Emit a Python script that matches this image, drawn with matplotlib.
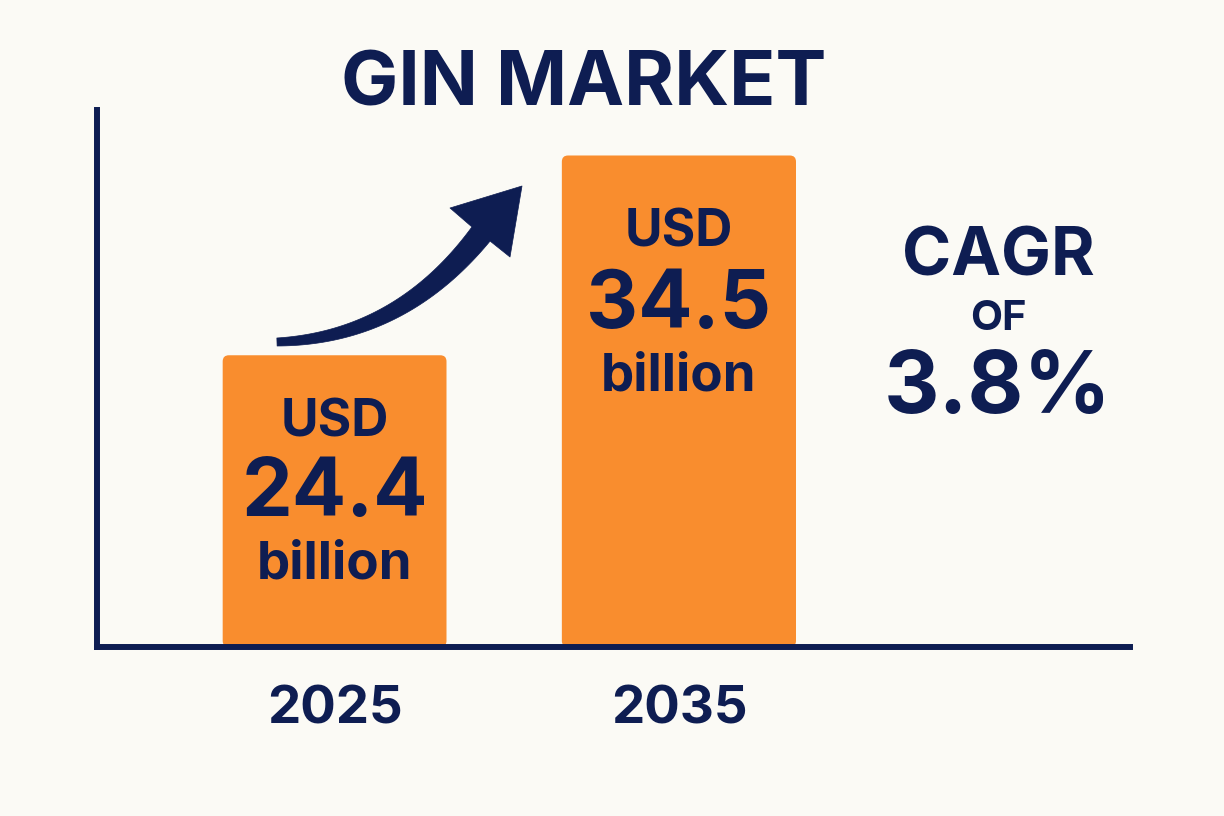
import matplotlib
matplotlib.use("Agg")
import numpy as np
import matplotlib.pyplot as plt
from matplotlib.patches import FancyBboxPatch, Polygon

years = ["2025", "2035"]
values = [24.4, 34.5]
value_labels = ["24.4", "34.5"]
title = "GIN MARKET"
cagr_lines = ["CAGR", "OF", "3.8%"]

NAVY = "#0E1D52"
ORANGE = "#F98D2E"
BG = "#FBFAF5"
FONT = ["Inter", "DejaVu Sans"]
W, H = 1224, 816

fig = plt.figure(figsize=(W / 100, H / 100), dpi=100, facecolor=BG)
ax = fig.add_axes([97 / W, 1 - 647 / H, (1130 - 97) / W, (647 - 110) / H])
ax.set_facecolor(BG)

pos = list(range(len(years)))
bars = ax.bar(pos, values, width=[0.65, 0.68], color=ORANGE)
ax.set_xlim(-0.69, 2.31)
ax.set_ylim(9.65, 36.8)

# swap plain bars for slightly rounded ones
for b in bars:
    x0, w = b.get_x(), b.get_width()
    y0 = ax.get_ylim()[0]
    h = b.get_height() - y0
    b.set_visible(False)
    ax.add_patch(FancyBboxPatch((x0, y0), w, h,
                                boxstyle="round,pad=0,rounding_size=0.018",
                                mutation_aspect=17.4, fc=ORANGE, ec="none"))

for s in ["top", "right"]:
    ax.spines[s].set_visible(False)
for s in ["left", "bottom"]:
    ax.spines[s].set_color(NAVY)
    ax.spines[s].set_linewidth(4.3)
    ax.spines[s].set_capstyle("projecting")
ax.set_xticks([])
ax.set_yticks([])

# labels inside bars (pixel offsets below the bar top)
usd_off = [-68, -78]
num_off = [-140, -152]
bil_off = [-210, -222]
for i, (v, lab) in enumerate(zip(values, value_labels)):
    ax.annotate("USD", (i, v), xytext=(0, usd_off[i]), textcoords="offset pixels",
                ha="center", va="center", fontsize=37, fontweight="bold", color=NAVY, family=FONT)
    ax.annotate(lab, (i, v), xytext=(0, num_off[i]), textcoords="offset pixels",
                ha="center", va="center", fontsize=58, fontweight="bold", color=NAVY, family=FONT)
    ax.annotate("billion", (i, v), xytext=(0, bil_off[i]), textcoords="offset pixels",
                ha="center", va="center", fontsize=38, fontweight="bold", color=NAVY, family=FONT)
    ax.annotate(years[i], (i, ax.get_ylim()[0]), xytext=(0, -63), textcoords="offset pixels",
                ha="center", va="center", fontsize=38, fontweight="bold", color=NAVY, family=FONT,
                annotation_clip=False)

fig.text(584 / W, 1 - 86 / H, title, ha="center", va="center", fontsize=55,
         fontweight="bold", color=NAVY, family=FONT)

cagr_y = [258, 319, 390]
cagr_sizes = [48, 30, 62]
for txt, y, fs in zip(cagr_lines, cagr_y, cagr_sizes):
    fig.text(998 / W, 1 - y / H, txt, ha="center", va="center", fontsize=fs,
             fontweight="bold", color=NAVY, family=FONT)

# tapered curved arrow, built in pixel space
p0, p1, p2 = np.array([277, 342]), np.array([400, 338]), np.array([481, 234])
t = np.linspace(0, 1, 60)[:, None]
curve = (1 - t) ** 2 * p0 + 2 * (1 - t) * t * p1 + t ** 2 * p2
deriv = 2 * (1 - t) * (p1 - p0) + 2 * t * (p2 - p1)
normal = np.column_stack([-deriv[:, 1], deriv[:, 0]])
normal /= np.linalg.norm(normal, axis=1)[:, None]
half = (4 + 7.5 * t)
side_a = curve + normal * half
side_b = curve - normal * half
head = np.array([[450, 208], [522, 186], [510, 257]])
# order: side_a forward, head, side_b backward
if np.linalg.norm(side_a[-1] - head[0]) > np.linalg.norm(side_b[-1] - head[0]):
    side_a, side_b = side_b, side_a
pts = np.vstack([side_a, head, side_b[::-1]])
pts = np.column_stack([pts[:, 0] / W, 1 - pts[:, 1] / H])
fig.add_artist(Polygon(pts, closed=True, transform=fig.transFigure, fc=NAVY, ec=NAVY, lw=0.5,
                       joinstyle="round"))

fig.savefig("out.png", dpi=100, facecolor=BG)
